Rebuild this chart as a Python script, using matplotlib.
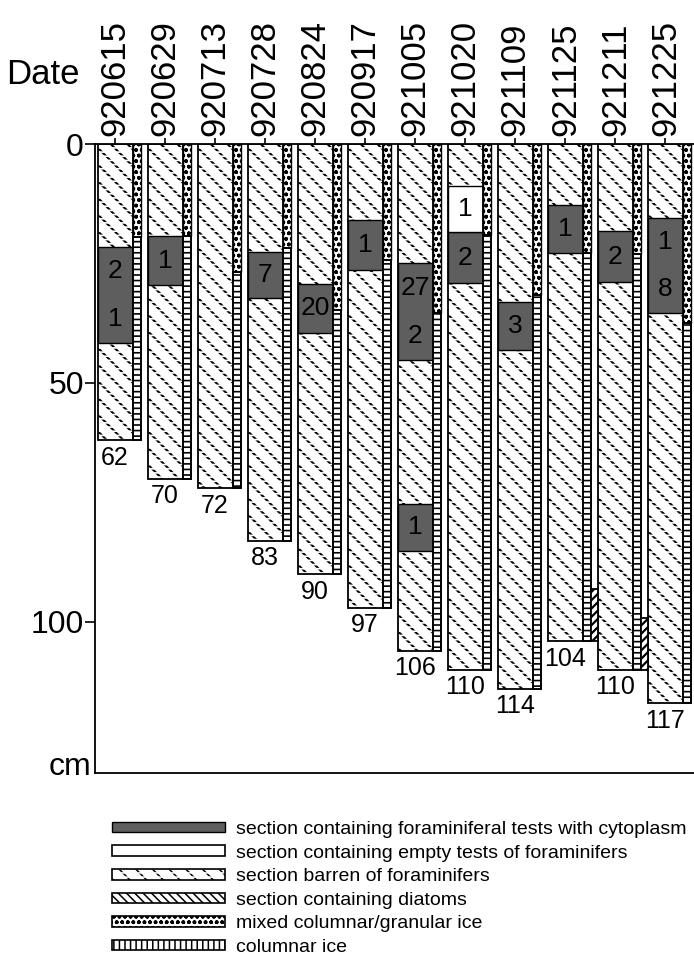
import numpy as np
import matplotlib
matplotlib.use('Agg')
import matplotlib.pyplot as plt
from matplotlib.patches import Patch
from matplotlib.legend_handler import HandlerTuple

plt.rcParams['font.family'] = ['Liberation Sans', 'DejaVu Sans']
plt.rcParams['hatch.linewidth'] = 1.1

dates = ['920615', '920629', '920713', '920728', '920824', '920917',
         '921005', '921020', '921109', '921125', '921211', '921225']
core_depth = [62, 70, 72, 83, 90, 97, 106, 110, 114, 104, 110, 117]
# base of mixed columnar/granular ice (cm)
granular_base = [19.5, 19.3, 26.7, 21.7, 34.7, 24.2, 35.3, 19.1, 31.6, 22.8, 23.0, 37.5]

# sections containing foraminiferal tests with cytoplasm
cyto_core = [0, 1, 3, 4, 5, 6, 6, 7, 8, 9, 10, 11]
cyto_top = [21.6, 19.3, 22.5, 29.2, 15.9, 25.0, 75.3, 18.5, 33.0, 12.8, 18.3, 15.4]
cyto_bottom = [41.6, 29.6, 32.2, 39.5, 26.3, 45.2, 85.1, 29.0, 43.1, 22.9, 28.8, 35.4]
cyto_counts = [['2', '1'], ['1'], ['7'], ['20'], ['1'], ['27', '2'], ['1'],
               ['2'], ['3'], ['1'], ['2'], ['1', '8']]

# sections containing empty tests
empty_core = [7]
empty_top = [8.8]
empty_bottom = [18.5]
empty_counts = [['1']]

# sections containing diatoms
diatom_core = [9, 10]
diatom_top = [93.0, 99.2]
diatom_bottom = [104, 110]

legend_labels = ['section containing foraminiferal tests with cytoplasm',
                 'section containing empty tests of foraminifers',
                 'section barren of foraminifers',
                 'section containing diatoms',
                 'mixed columnar/granular ice',
                 'columnar ice']

CYTO = '#5e5e5e'
W_MAIN, W_ICE, W_DIA = 0.70, 0.17, 0.13
BARREN_LINES, BARREN_BREAKS = '\\\\', '----'


def hatch_lw(artists, lw):
    # per-artist hatch width where matplotlib supports it
    for a in artists:
        if hasattr(a, 'set_hatch_linewidth'):
            a.set_hatch_linewidth(lw)


fig = plt.figure(figsize=(6.94, 9.67), dpi=100)
ax = fig.add_axes([95 / 694, 1 - 773 / 967, 1 - 95 / 694, (773 - 144) / 967])

x = np.arange(len(dates))
depth = np.array(core_depth, dtype=float)
gbase = np.array(granular_base)

# main core: barren by default (black diagonals broken into dashes by white lines)
b1 = ax.bar(x - W_MAIN / 2, depth, W_MAIN, align='edge', color='white',
            edgecolor='black', hatch=BARREN_LINES, linewidth=0)
hatch_lw(b1, 1.5)
b2 = ax.bar(x - W_MAIN / 2, depth, W_MAIN, align='edge', color='none',
            edgecolor='white', hatch=BARREN_BREAKS, linewidth=0)
hatch_lw(b2, 1.2)

# cytoplasm / empty sections
ct, cb = np.array(cyto_top), np.array(cyto_bottom)
ax.bar(np.array(cyto_core) - W_MAIN / 2, cb - ct, W_MAIN, bottom=ct, align='edge',
       color=CYTO, edgecolor='black', linewidth=1.0)
et, eb = np.array(empty_top), np.array(empty_bottom)
ax.bar(np.array(empty_core) - W_MAIN / 2, eb - et, W_MAIN, bottom=et, align='edge',
       color='white', edgecolor='black', linewidth=1.0)

for cores, tops, bots, counts in [(cyto_core, cyto_top, cyto_bottom, cyto_counts),
                                  (empty_core, empty_top, empty_bottom, empty_counts)]:
    for k, t, b, labs in zip(cores, tops, bots, counts):
        n = len(labs)
        for i, lab in enumerate(labs):
            yc = t + (b - t) * (i + 0.5) / n
            ax.text(k, yc, lab, ha='center', va='center', fontsize=19, color='black')

# outline of main core
ax.bar(x - W_MAIN / 2, depth, W_MAIN, align='edge', fill=False,
       edgecolor='black', linewidth=1.3)

# ice texture strips
ax.bar(x + W_MAIN / 2, gbase, W_ICE, align='edge', color='white',
       edgecolor='black', hatch='ooo', linewidth=1.0)
b3 = ax.bar(x + W_MAIN / 2, depth - gbase, W_ICE, bottom=gbase, align='edge',
            color='white', edgecolor='black', hatch='---', linewidth=1.4)
hatch_lw(b3, 1.2)

dt, db = np.array(diatom_top), np.array(diatom_bottom, dtype=float)
b4 = ax.bar(np.array(diatom_core) + W_MAIN / 2 + W_ICE, db - dt, W_DIA, bottom=dt,
            align='edge', color='white', edgecolor='black', hatch='////',
            linewidth=1.3)
hatch_lw(b4, 1.6)

for k, d in zip(x, core_depth):
    ax.annotate(str(d), (k, d), xytext=(0, -4), textcoords='offset points',
                ha='center', va='top', fontsize=18, annotation_clip=False)

ax.set_ylim(131.6, 0)
ax.set_xlim(-0.4, 11.57)
ax.set_yticks([0, 50, 100])
ax.tick_params(axis='y', labelsize=23, length=7, width=1.2, pad=1)
ax.xaxis.tick_top()
ax.set_xticks(x)
ax.set_xticklabels(dates, rotation=90)
ax.tick_params(axis='x', labelsize=25, length=4, width=1.2, pad=1.5)
ax.spines['right'].set_visible(False)
for s in ['left', 'top', 'bottom']:
    ax.spines[s].set_linewidth(1.3)

fig.text(80 / 694, 1 - 74 / 967, 'Date', ha='right', va='center', fontsize=25)
fig.text(91 / 694, 1 - 775 / 967, 'cm', ha='right', va='baseline', fontsize=23)

barren_dash = Patch(facecolor='none', edgecolor='white', hatch=BARREN_BREAKS, linewidth=0)
barren_base = Patch(facecolor='white', edgecolor='black', hatch=BARREN_LINES, linewidth=0)
hatch_lw([barren_base], 1.5)
hatch_lw([barren_dash], 1.2)
handles = [
    Patch(facecolor=CYTO, edgecolor='black', linewidth=1.0),
    Patch(facecolor='white', edgecolor='black', linewidth=1.2),
    (barren_base, barren_dash, Patch(fill=False, edgecolor='black', linewidth=1.2)),
    Patch(facecolor='white', edgecolor='black', hatch='\\\\\\\\', linewidth=1.2),
    Patch(facecolor='white', edgecolor='black', hatch='ooo', linewidth=1.2),
    Patch(facecolor='white', edgecolor='black', hatch='|||', linewidth=1.2),
]
fig.legend(handles, legend_labels, loc='upper left',
           bbox_to_anchor=(112 / 694, 1 - 821 / 967), frameon=False,
           prop={'family': ['Liberation Sans Narrow', 'Liberation Sans'], 'size': 14},
           handlelength=5.8, handleheight=0.45, handletextpad=0.6,
           labelspacing=0.34, borderpad=0, borderaxespad=0,
           handler_map={tuple: HandlerTuple(ndivide=1, pad=0)})

fig.savefig('out.png', dpi=100)
